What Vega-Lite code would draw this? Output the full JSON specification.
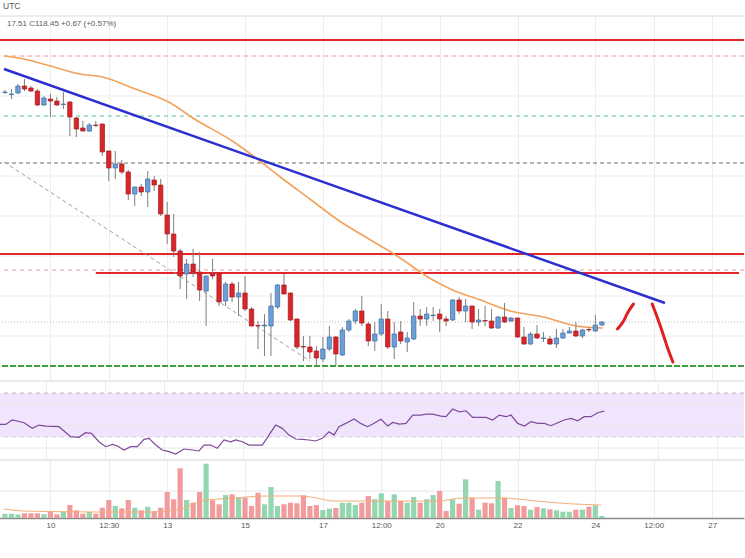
{
  "$schema": "https://vega.github.io/schema/vega-lite/v6.json",
  "padding": {"left": -4, "right": 0, "top": 2, "bottom": 0},
  "background": "#ffffff",
  "title": {"text": "UTC", "anchor": "start", "frame": "group", "fontSize": 8.5, "fontWeight": "normal", "color": "#555555", "font": "Liberation Sans", "offset": 5, "dx": 4},
  "spacing": 0,
  "config": {
    "view": {"stroke": null},
    "mark": {"clip": true},
    "axis": {"title": null, "labels": false, "ticks": false, "domain": false, "grid": true, "gridColor": "#ededed", "gridWidth": 1, "labelPadding": 0, "tickSize": 0, "minExtent": 0}
  },
  "datasets": {
    "one": [{}],
    "pgrid": [{"p":118},{"p":120},{"p":122},{"p":124},{"p":126},{"p":128},{"p":130},{"p":132}],
    "rgrid": [{"r":20},{"r":40},{"r":60}],
    "candles": [
      {"i":0,"o":130.175,"h":130.30,"l":130.10,"c":130.20,"v":4.3},
      {"i":1,"o":130.075,"h":130.35,"l":129.85,"c":130.10,"v":4.3},
      {"i":2,"o":130.15,"h":130.60,"l":130.10,"c":130.50,"v":3.5},
      {"i":3,"o":130.50,"h":130.85,"l":130.25,"c":130.35,"v":4.7},
      {"i":4,"o":130.40,"h":130.50,"l":130.20,"c":130.25,"v":4.7},
      {"i":5,"o":130.25,"h":130.35,"l":129.50,"c":129.55,"v":4.7},
      {"i":6,"o":129.55,"h":130.00,"l":129.50,"c":129.90,"v":3.7},
      {"i":7,"o":129.85,"h":130.10,"l":128.95,"c":129.75,"v":6},
      {"i":8,"o":129.75,"h":129.95,"l":129.50,"c":129.55,"v":3.7},
      {"i":9,"o":129.575,"h":130.20,"l":129.35,"c":129.60,"v":6},
      {"i":10,"o":129.70,"h":129.75,"l":128.00,"c":128.95,"v":13},
      {"i":11,"o":128.90,"h":128.95,"l":127.95,"c":128.35,"v":7.7},
      {"i":12,"o":128.40,"h":128.75,"l":128.22,"c":128.25,"v":4.3},
      {"i":13,"o":128.25,"h":128.65,"l":128.20,"c":128.55,"v":6},
      {"i":14,"o":128.55,"h":128.75,"l":128.45,"c":128.525,"v":4.3},
      {"i":15,"o":128.60,"h":128.62,"l":127.00,"c":127.20,"v":10.3},
      {"i":16,"o":127.25,"h":127.27,"l":125.75,"c":126.40,"v":18},
      {"i":17,"o":126.40,"h":127.25,"l":125.85,"c":126.60,"v":12},
      {"i":18,"o":126.60,"h":126.80,"l":126.10,"c":126.20,"v":9.7},
      {"i":19,"o":126.20,"h":126.30,"l":124.80,"c":125.10,"v":18},
      {"i":20,"o":125.10,"h":125.47,"l":124.50,"c":125.45,"v":10.3},
      {"i":21,"o":125.45,"h":125.60,"l":125.00,"c":125.20,"v":7.7},
      {"i":22,"o":125.20,"h":126.25,"l":124.45,"c":125.85,"v":11.3},
      {"i":23,"o":125.80,"h":126.00,"l":125.25,"c":125.55,"v":7},
      {"i":24,"o":125.55,"h":125.85,"l":124.00,"c":124.10,"v":10.3},
      {"i":25,"o":124.05,"h":124.70,"l":122.60,"c":123.10,"v":26},
      {"i":26,"o":123.10,"h":124.10,"l":121.95,"c":122.25,"v":18.7},
      {"i":27,"o":122.25,"h":122.35,"l":120.35,"c":121.00,"v":49.7},
      {"i":28,"o":121.10,"h":121.85,"l":119.85,"c":121.60,"v":18},
      {"i":29,"o":121.60,"h":122.35,"l":120.95,"c":121.20,"v":15.3},
      {"i":30,"o":121.20,"h":122.20,"l":119.75,"c":120.30,"v":26},
      {"i":31,"o":120.25,"h":121.02,"l":118.50,"c":121.00,"v":54.3},
      {"i":32,"o":121.10,"h":121.85,"l":120.85,"c":121.00,"v":17.7},
      {"i":33,"o":121.10,"h":121.12,"l":119.50,"c":119.70,"v":13.7},
      {"i":34,"o":119.75,"h":120.70,"l":119.50,"c":120.60,"v":23},
      {"i":35,"o":120.60,"h":120.70,"l":119.70,"c":119.95,"v":23.7},
      {"i":36,"o":119.95,"h":120.70,"l":119.00,"c":120.15,"v":20.3},
      {"i":37,"o":120.15,"h":121.00,"l":119.25,"c":119.35,"v":20.3},
      {"i":38,"o":119.35,"h":119.45,"l":118.48,"c":118.50,"v":12},
      {"i":39,"o":118.525,"h":118.75,"l":117.35,"c":118.50,"v":25.3},
      {"i":40,"o":118.50,"h":119.10,"l":117.00,"c":118.55,"v":13.7},
      {"i":41,"o":118.50,"h":120.15,"l":117.00,"c":119.50,"v":31},
      {"i":42,"o":119.45,"h":120.60,"l":119.35,"c":120.55,"v":12},
      {"i":43,"o":120.55,"h":121.10,"l":120.08,"c":120.10,"v":13.7},
      {"i":44,"o":120.15,"h":120.17,"l":118.75,"c":118.80,"v":15.3},
      {"i":45,"o":118.85,"h":118.87,"l":117.35,"c":117.45,"v":14.7},
      {"i":46,"o":117.475,"h":118.00,"l":116.75,"c":117.45,"v":22.7},
      {"i":47,"o":117.45,"h":118.00,"l":116.85,"c":117.20,"v":12},
      {"i":48,"o":117.25,"h":117.50,"l":116.50,"c":116.90,"v":13},
      {"i":49,"o":116.85,"h":117.95,"l":116.70,"c":117.35,"v":8},
      {"i":50,"o":117.35,"h":118.50,"l":117.25,"c":117.95,"v":9.3},
      {"i":51,"o":117.95,"h":118.00,"l":116.50,"c":117.10,"v":10},
      {"i":52,"o":117.05,"h":118.45,"l":117.00,"c":118.30,"v":15.3},
      {"i":53,"o":118.30,"h":118.85,"l":118.20,"c":118.75,"v":15.3},
      {"i":54,"o":118.75,"h":119.35,"l":118.60,"c":119.25,"v":13},
      {"i":55,"o":119.25,"h":120.00,"l":118.50,"c":118.65,"v":15.3},
      {"i":56,"o":118.60,"h":118.70,"l":117.50,"c":117.75,"v":22},
      {"i":57,"o":117.75,"h":118.70,"l":117.25,"c":118.10,"v":18.7},
      {"i":58,"o":118.10,"h":119.60,"l":118.00,"c":118.85,"v":24.7},
      {"i":59,"o":118.85,"h":119.25,"l":117.35,"c":117.45,"v":17},
      {"i":60,"o":117.45,"h":118.70,"l":116.85,"c":118.10,"v":23.7},
      {"i":61,"o":118.20,"h":118.75,"l":117.60,"c":117.75,"v":17},
      {"i":62,"o":117.70,"h":118.20,"l":117.20,"c":117.90,"v":15.3},
      {"i":63,"o":117.85,"h":119.70,"l":117.80,"c":119.00,"v":21},
      {"i":64,"o":119.00,"h":119.35,"l":118.50,"c":118.85,"v":15.3},
      {"i":65,"o":118.85,"h":119.45,"l":118.50,"c":119.10,"v":18.7},
      {"i":66,"o":119.025,"h":119.45,"l":118.75,"c":119.05,"v":23},
      {"i":67,"o":119.10,"h":119.35,"l":118.20,"c":118.85,"v":27},
      {"i":68,"o":118.85,"h":119.00,"l":118.50,"c":118.75,"v":7},
      {"i":69,"o":118.80,"h":119.85,"l":118.75,"c":119.80,"v":18.7},
      {"i":70,"o":119.80,"h":119.95,"l":119.10,"c":119.25,"v":14.3},
      {"i":71,"o":119.25,"h":119.85,"l":118.70,"c":119.50,"v":38.7},
      {"i":72,"o":119.50,"h":119.52,"l":118.35,"c":118.70,"v":20.3},
      {"i":73,"o":118.70,"h":119.35,"l":118.50,"c":118.80,"v":8.3},
      {"i":74,"o":118.775,"h":119.50,"l":118.50,"c":118.75,"v":15.3},
      {"i":75,"o":118.75,"h":119.35,"l":118.35,"c":118.40,"v":14.7},
      {"i":76,"o":118.40,"h":119.00,"l":118.35,"c":118.95,"v":37},
      {"i":77,"o":118.95,"h":119.65,"l":118.65,"c":118.70,"v":20.3},
      {"i":78,"o":118.75,"h":118.95,"l":118.70,"c":118.90,"v":10},
      {"i":79,"o":118.90,"h":118.92,"l":117.90,"c":117.95,"v":12.7},
      {"i":80,"o":117.95,"h":118.45,"l":117.55,"c":117.60,"v":12},
      {"i":81,"o":117.60,"h":118.20,"l":117.55,"c":118.10,"v":8.3},
      {"i":82,"o":118.10,"h":118.55,"l":117.85,"c":117.90,"v":11},
      {"i":83,"o":117.875,"h":118.20,"l":117.70,"c":117.90,"v":9.7},
      {"i":84,"o":117.85,"h":118.00,"l":117.55,"c":117.60,"v":8.7},
      {"i":85,"o":117.60,"h":118.35,"l":117.40,"c":117.90,"v":7.7},
      {"i":86,"o":117.90,"h":118.35,"l":117.85,"c":118.15,"v":6.3},
      {"i":87,"o":118.15,"h":118.45,"l":118.13,"c":118.25,"v":6.3},
      {"i":88,"o":118.25,"h":118.70,"l":117.95,"c":118.00,"v":8.3},
      {"i":89,"o":118.00,"h":118.35,"l":117.90,"c":118.30,"v":8.3},
      {"i":90,"o":118.325,"h":118.45,"l":118.20,"c":118.30,"v":11.3},
      {"i":91,"o":118.25,"h":119.05,"l":118.20,"c":118.55,"v":12.7},
      {"i":92,"o":118.55,"h":118.75,"l":118.50,"c":118.70,"v":2}
    ],
    "ma": [
      {"i":-0.15,"p":132.0},{"i":2.89,"p":131.85},{"i":7.0,"p":131.5},{"i":11.56,"p":131.1},{"i":15.05,"p":130.95},
      {"i":20.07,"p":130.35},{"i":25.24,"p":129.7},{"i":29.2,"p":128.85},{"i":35.28,"p":127.7},{"i":37.86,"p":127.1},
      {"i":42.43,"p":125.95},{"i":46.99,"p":124.85},{"i":51.55,"p":123.75},{"i":56.11,"p":122.85},{"i":60.68,"p":121.95},
      {"i":65.69,"p":120.85},{"i":69.34,"p":120.25},{"i":72.84,"p":119.85},{"i":77.86,"p":119.25},{"i":83.03,"p":118.95},
      {"i":88.05,"p":118.5},{"i":92.15,"p":118.4}
    ],
    "trend": [{"i":-0.15,"p":131.35},{"i":101.73,"p":119.65}],
    "diag": [{"i":-0.15,"p":126.7},{"i":47.0,"p":116.75}],
    "strokes": [
      {"s":"a","i":94.4,"p":118.35},{"s":"a","i":95.35,"p":118.75},{"s":"a","i":95.96,"p":119.15},{"s":"a","i":96.87,"p":119.6},
      {"s":"b","i":99.76,"p":119.6},{"s":"b","i":100.52,"p":118.95},{"s":"b","i":101.43,"p":118.1},{"s":"b","i":102.19,"p":117.35},{"s":"b","i":102.95,"p":116.7}
    ],
    "rsi": [
      {"i":-0.15,"r":41.5},{"i":0.87,"r":41.5},{"i":1.87,"r":45.5},{"i":3.65,"r":43.0},{"i":4.92,"r":37.9},{"i":5.93,"r":40.9},
      {"i":6.95,"r":40.0},{"i":8.97,"r":39.4},{"i":10.75,"r":30.3},{"i":12.0,"r":29.7},{"i":13.0,"r":33.9},{"i":13.9,"r":33.3},
      {"i":15.05,"r":25.7},{"i":16.07,"r":21.2},{"i":17.1,"r":23.3},{"i":17.84,"r":21.8},{"i":18.86,"r":18.2},{"i":19.87,"r":21.2},
      {"i":20.88,"r":21.2},{"i":21.9,"r":27.9},{"i":22.66,"r":28.8},{"i":23.68,"r":22.7},{"i":24.68,"r":18.2},{"i":25.7,"r":16.7},
      {"i":26.72,"r":14.5},{"i":27.98,"r":19.1},{"i":29.24,"r":18.2},{"i":30.26,"r":17.3},{"i":31.02,"r":22.7},{"i":32.04,"r":22.7},
      {"i":33.05,"r":19.7},{"i":34.06,"r":27.3},{"i":35.08,"r":25.7},{"i":35.84,"r":27.3},{"i":36.85,"r":25.7},{"i":37.87,"r":22.7},
      {"i":39.89,"r":22.7},{"i":40.9,"r":31.8},{"i":41.92,"r":40.9},{"i":42.93,"r":37.9},{"i":43.95,"r":31.8},{"i":44.97,"r":28.2},
      {"i":45.97,"r":27.9},{"i":46.99,"r":27.3},{"i":48.0,"r":26.4},{"i":49.01,"r":28.8},{"i":50.03,"r":34.8},{"i":50.79,"r":31.8},
      {"i":51.55,"r":39.4},{"i":52.57,"r":42.4},{"i":53.83,"r":46.4},{"i":54.85,"r":42.4},{"i":55.86,"r":39.4},{"i":56.42,"r":40.9},
      {"i":57.94,"r":46.1},{"i":58.96,"r":40.0},{"i":59.72,"r":43.3},{"i":60.72,"r":41.8},{"i":61.74,"r":42.4},{"i":62.76,"r":50.0},
      {"i":64.02,"r":50.0},{"i":64.78,"r":50.9},{"i":65.8,"r":50.9},{"i":67.06,"r":49.1},{"i":67.82,"r":48.5},{"i":68.84,"r":55.5},
      {"i":69.85,"r":53.0},{"i":70.86,"r":53.9},{"i":71.88,"r":47.9},{"i":73.9,"r":47.9},{"i":74.92,"r":45.5},{"i":75.93,"r":50.0},
      {"i":76.95,"r":48.5},{"i":77.71,"r":50.0},{"i":78.73,"r":42.4},{"i":79.73,"r":40.0},{"i":80.75,"r":43.9},{"i":81.77,"r":42.4},
      {"i":82.77,"r":42.4},{"i":83.79,"r":40.3},{"i":84.81,"r":43.0},{"i":85.81,"r":45.5},{"i":86.83,"r":47.0},{"i":87.85,"r":44.8},
      {"i":88.85,"r":48.5},{"i":89.87,"r":48.5},{"i":90.89,"r":52.1},{"i":91.9,"r":53.6}
    ],
    "vma": [
      {"i":-0.15,"v":9},{"i":2.89,"v":7},{"i":15.05,"v":6},{"i":22.66,"v":6},{"i":27.2,"v":9},{"i":30.26,"v":17},
      {"i":35.28,"v":20},{"i":40.45,"v":22},{"i":45.47,"v":22},{"i":48.05,"v":20},{"i":50.49,"v":17},{"i":56.42,"v":17},
      {"i":66.6,"v":17},{"i":70.56,"v":20},{"i":76.64,"v":20},{"i":81.81,"v":17},{"i":86.83,"v":14.3},{"i":91.85,"v":13}
    ]
  },
  "vconcat": [
    {
      "width": 745,
      "height": 364,
      "layer": [
        {"data": {"name": "pgrid"}, "mark": {"type": "rule", "color": "#ededed", "strokeWidth": 1},
         "encoding": {"y": {"field": "p", "type": "quantitative", "scale": {"domain": [115.8, 134.0], "nice": false, "zero": false}, "axis": null}}},
        {"data": {"name": "one"}, "mark": {"type": "rule", "color": "#dcdcdc", "strokeWidth": 1},
         "encoding": {"y": {"datum": 134.0, "type": "quantitative", "axis": null}}},
        {"data": {"name": "one"}, "mark": {"type": "rule", "color": "#e3262a", "strokeWidth": 2},
         "encoding": {"y": {"datum": 132.8, "type": "quantitative", "axis": null}}},
        {"data": {"name": "one"}, "mark": {"type": "rule", "color": "#f09c9c", "strokeWidth": 1.2, "strokeDash": [4, 4]},
         "encoding": {"y": {"datum": 132.0, "type": "quantitative", "axis": null}}},
        {"data": {"name": "one"}, "mark": {"type": "rule", "color": "#8fd6be", "strokeWidth": 1.3, "strokeDash": [4, 4]},
         "encoding": {"y": {"datum": 129.0, "type": "quantitative", "axis": null}}},
        {"data": {"name": "one"}, "mark": {"type": "rule", "color": "#6e6e6e", "strokeWidth": 1.2, "strokeDash": [4, 3]},
         "encoding": {"y": {"datum": 126.65, "type": "quantitative", "axis": null}}},
        {"data": {"name": "one"}, "mark": {"type": "rule", "color": "#e3262a", "strokeWidth": 2},
         "encoding": {"y": {"datum": 122.1, "type": "quantitative", "axis": null}}},
        {"data": {"name": "one"}, "mark": {"type": "rule", "color": "#f09c9c", "strokeWidth": 1.2, "strokeDash": [4, 4]},
         "encoding": {"y": {"datum": 121.3, "type": "quantitative", "axis": null}}},
        {"data": {"name": "one"}, "mark": {"type": "rule", "color": "#e3262a", "strokeWidth": 2},
         "encoding": {"x": {"datum": 14, "type": "quantitative", "scale": {"domain": [-0.152, 113.14], "nice": false, "zero": false}, "axis": {"values": [7, 16, 25, 37, 49, 58, 67, 79, 91, 100, 109]}},
                      "x2": {"datum": 113.14},
                      "y": {"datum": 121.15, "type": "quantitative", "axis": null}}},
        {"data": {"name": "one"}, "mark": {"type": "rule", "color": "#b8b8b8", "strokeWidth": 1, "strokeDash": [1, 2]},
         "encoding": {"y": {"datum": 118.7, "type": "quantitative", "axis": null}}},
        {"data": {"name": "one"}, "mark": {"type": "rule", "color": "#3c9e3c", "strokeWidth": 2, "strokeDash": [6, 2]},
         "encoding": {"y": {"datum": 116.5, "type": "quantitative", "axis": null}}},
        {"data": {"name": "diag"},
         "mark": {"type": "line", "color": "#a0a0a0", "strokeWidth": 1, "strokeDash": [4, 3]},
         "encoding": {"x": {"field": "i", "type": "quantitative"}, "y": {"field": "p", "type": "quantitative", "axis": null}}},
        {"data": {"name": "ma"},
         "mark": {"type": "line", "color": "#f2a25c", "strokeWidth": 1.6, "interpolate": "monotone"},
         "encoding": {"x": {"field": "i", "type": "quantitative"}, "y": {"field": "p", "type": "quantitative", "axis": null}}},
        {"data": {"name": "candles"},
         "mark": {"type": "rule", "color": "#7f7f7f", "strokeWidth": 1},
         "encoding": {"x": {"field": "i", "type": "quantitative"}, "y": {"field": "l", "type": "quantitative", "axis": null}, "y2": {"field": "h"}}},
        {"data": {"name": "candles"},
         "mark": {"type": "bar", "size": 4.4, "strokeWidth": 0.7},
         "encoding": {"x": {"field": "i", "type": "quantitative"}, "y": {"field": "o", "type": "quantitative", "axis": null}, "y2": {"field": "c"},
                      "fill": {"condition": {"test": "datum.c >= datum.o", "value": "#6d9ed6"}, "value": "#d8262a"},
                      "stroke": {"condition": {"test": "datum.c >= datum.o", "value": "#3e6ea8"}, "value": "#a81c1f"}}},
        {"data": {"name": "trend"},
         "mark": {"type": "line", "color": "#2b2fd0", "strokeWidth": 2.4},
         "encoding": {"x": {"field": "i", "type": "quantitative"}, "y": {"field": "p", "type": "quantitative", "axis": null}}},
        {"data": {"name": "strokes"},
         "mark": {"type": "line", "color": "#e02020", "strokeWidth": 3, "strokeCap": "round", "interpolate": "monotone"},
         "encoding": {"x": {"field": "i", "type": "quantitative"}, "y": {"field": "p", "type": "quantitative", "axis": null}, "detail": {"field": "s"}}},
        {"data": {"name": "one"}, "mark": {"type": "text", "align": "left", "baseline": "middle", "fontSize": 8, "color": "#5a5a5a", "font": "Liberation Sans"},
         "encoding": {"x": {"datum": 0.3, "type": "quantitative"}, "y": {"datum": 133.6, "type": "quantitative", "axis": null}, "text": {"value": "17.51   C118.45   +0.67 (+0.57%)"}}}
      ]
    },
    {
      "width": 745,
      "height": 78,
      "layer": [
        {"data": {"name": "one"}, "mark": {"type": "rect", "color": "#f0e5fc"},
         "encoding": {"y": {"datum": 30, "type": "quantitative", "scale": {"domain": [10, 81], "nice": false, "zero": false}, "axis": null}, "y2": {"datum": 70}}},
        {"data": {"name": "rgrid"}, "mark": {"type": "rule", "color": "#e6e6e6", "strokeWidth": 1},
         "encoding": {"y": {"field": "r", "type": "quantitative", "axis": null}}},
        {"data": {"name": "one"}, "mark": {"type": "rule", "color": "#b4b4b4", "strokeWidth": 1, "strokeDash": [4, 4]},
         "encoding": {"y": {"datum": 70, "type": "quantitative", "axis": null}}},
        {"data": {"name": "one"}, "mark": {"type": "rule", "color": "#d4d4d4", "strokeWidth": 1, "strokeDash": [4, 4]},
         "encoding": {"y": {"datum": 30, "type": "quantitative", "axis": null}}},
        {"data": {"name": "one"}, "mark": {"type": "rule", "color": "#d6d6d6", "strokeWidth": 1, "clip": false},
         "encoding": {"y": {"datum": 81, "type": "quantitative", "axis": null}}},
        {"data": {"name": "rsi"},
         "mark": {"type": "line", "color": "#7e4a9c", "strokeWidth": 1.2},
         "encoding": {"x": {"field": "i", "type": "quantitative", "scale": {"domain": [-0.152, 113.14], "nice": false, "zero": false}, "axis": {"values": [7, 16, 25, 37, 49, 58, 67, 79, 91, 100, 109]}},
                      "y": {"field": "r", "type": "quantitative", "axis": null}}}
      ]
    },
    {
      "width": 745,
      "height": 58,
      "layer": [
        {"data": {"name": "one"}, "mark": {"type": "rule", "color": "#e6e6e6", "strokeWidth": 1},
         "encoding": {"y": {"datum": 27, "type": "quantitative", "scale": {"domain": [0, 58], "nice": false, "zero": false}, "axis": null}}},
        {"data": {"name": "one"}, "mark": {"type": "rule", "color": "#d6d6d6", "strokeWidth": 1, "clip": false},
         "encoding": {"y": {"datum": 58, "type": "quantitative", "axis": null}}},
        {"data": {"name": "candles"},
         "mark": {"type": "bar", "size": 5.2},
         "encoding": {
           "x": {"field": "i", "type": "quantitative", "scale": {"domain": [-0.152, 113.14], "nice": false, "zero": false},
                 "axis": {"values": [7, 16, 25, 37, 49, 58, 67, 79, 91, 100, 109], "labels": true, "domain": true, "domainColor": "#8a8a8a", "domainWidth": 1.5,
                          "labelFontSize": 8, "labelColor": "#555555", "labelFont": "Liberation Sans", "labelPadding": 3, "labelFlush": false, "labelOverlap": false,
                          "labelExpr": "datum.value==7?'10':datum.value==16?'12:30':datum.value==25?'13':datum.value==37?'15':datum.value==49?'17':datum.value==58?'12:00':datum.value==67?'20':datum.value==79?'22':datum.value==91?'24':datum.value==100?'12:00':'27'"}},
           "y": {"field": "v", "type": "quantitative", "axis": null},
           "fill": {"condition": {"test": "datum.c >= datum.o", "value": "#93d6b0"}, "value": "#f19b9c"}}},
        {"data": {"name": "vma"},
         "mark": {"type": "line", "color": "#f5ad78", "strokeWidth": 1, "interpolate": "monotone"},
         "encoding": {"x": {"field": "i", "type": "quantitative"}, "y": {"field": "v", "type": "quantitative", "axis": null}}}
      ]
    }
  ]
}
